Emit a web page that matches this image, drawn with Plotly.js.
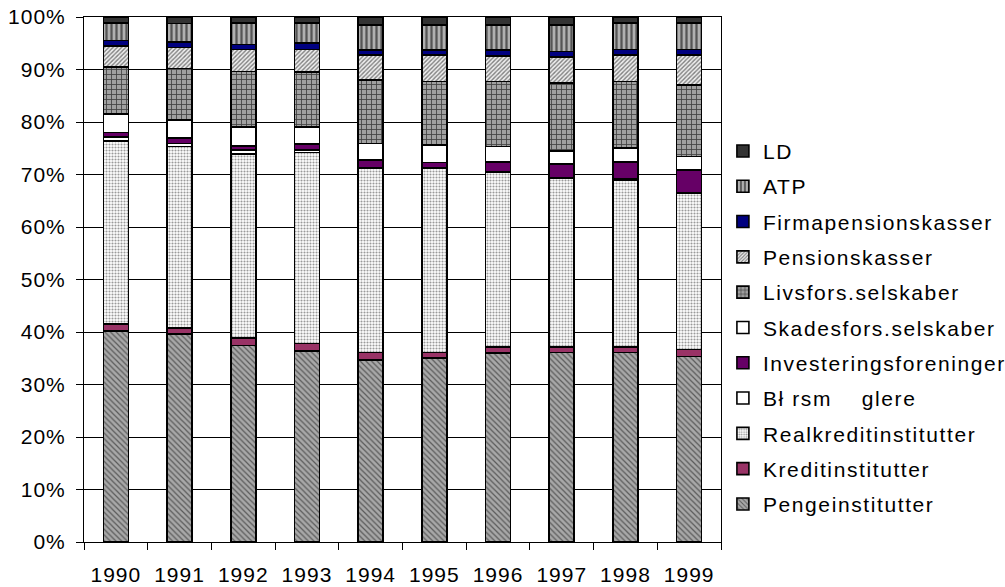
<!DOCTYPE html>
<html>
<head>
<meta charset="utf-8">
<script src="https://cdn.plot.ly/plotly-3.0.1.min.js"></script>
<style>
html,body{margin:0;padding:0;background:#fff;}
#chart{width:1005px;height:587px;}
.xtick text, .ytick text{letter-spacing:1px;}
.legendtext{letter-spacing:1.6px;}
</style>
</head>
<body>
<div id="chart"></div>
<script>
const years = ['1990','1991','1992','1993','1994','1995','1996','1997','1998','1999'];

const pengeinstitutter      = [40.2, 39.6, 37.4, 36.4, 34.7, 35.0, 36.0, 36.1, 36.1, 35.3];
const kreditinstitutter     = [1.3, 1.2, 1.5, 1.4, 1.4, 1.1, 1.1, 1.0, 1.0, 1.4];
const realkreditinstitutter = [34.9, 34.5, 35.0, 36.4, 35.1, 35.1, 33.3, 32.2, 31.9, 29.7];
const borsmaeglere          = [0.8, 0.6, 0.8, 0.5, 0.1, 0.1, 0.1, 0.1, 0.1, 0.1];
const investeringsforeninger= [0.8, 1.1, 0.7, 1.1, 1.5, 1.0, 1.9, 2.6, 3.3, 4.4];
const skadesfors            = [3.5, 3.4, 3.6, 3.2, 3.1, 3.3, 2.9, 2.5, 2.6, 2.5];
const livsfors              = [9.0, 9.8, 10.6, 10.5, 12.1, 12.1, 12.4, 12.9, 12.7, 13.6];
const pensionskasser        = [4.0, 4.0, 4.2, 4.3, 4.8, 5.1, 4.9, 5.0, 5.1, 5.8];
const firmapensionskasser   = [1.0, 1.0, 1.0, 1.2, 0.9, 0.9, 1.1, 1.0, 1.0, 1.0];
const atp                   = [3.4, 3.6, 4.1, 3.9, 4.8, 4.8, 4.8, 5.1, 5.1, 5.1];
const ld                    = [1.1, 1.2, 1.1, 1.1, 1.5, 1.5, 1.5, 1.5, 1.1, 1.1];

const seriesNames = ['Pengeinstitutter','Kreditinstitutter','Realkreditinstitutter',
  'Bł\u00a0rsm\u00a0\u00a0\u00a0\u00a0glere','Investeringsforeninger','Skadesfors.selskaber',
  'Livsfors.selskaber','Pensionskasser','Firmapensionskasser','ATP','LD'];
const seriesValues = [pengeinstitutter, kreditinstitutter, realkreditinstitutter, borsmaeglere,
  investeringsforeninger, skadesfors, livsfors, pensionskasser, firmapensionskasser, atp, ld];

const styles = [
  {color:'#a0a0a0', pattern:{shape:'\\', bgcolor:'#a8a8a8', fgcolor:'#5a5a5a', size:4, solidity:0.3}},
  {color:'#993366'},
  {color:'#ffffff', pattern:{shape:'.', bgcolor:'#ffffff', fgcolor:'#9a9a9a', size:3, solidity:0.4}},
  {color:'#ffffff'},
  {color:'#660066'},
  {color:'#ffffff'},
  {color:'#999999', pattern:{shape:'+', bgcolor:'#a0a0a0', fgcolor:'#404040', size:5, solidity:0.3}},
  {color:'#e0e0e0', pattern:{shape:'/', bgcolor:'#f0f0f0', fgcolor:'#808080', size:3, solidity:0.45}},
  {color:'#000080'},
  {color:'#909090', pattern:{shape:'|', bgcolor:'#b0b0b0', fgcolor:'#555555', size:5, solidity:0.45}},
  {color:'#333333'}
];

const traces = seriesNames.map((name, i) => {
  const m = {color: styles[i].color, line:{color:'#000', width:1.6}};
  if (styles[i].pattern) m.pattern = Object.assign({fillmode:'replace'}, styles[i].pattern);
  return {type:'bar', name:name, legendgroup:'g'+i, legendrank:1000 - i*10,
    x:years, y:seriesValues[i], marker:m, hoverinfo:'name+y'};
});

const layout = {
  width:1005, height:587,
  margin:{l:84, r:284, t:17, b:45, autoexpand:false},
  paper_bgcolor:'#fff', plot_bgcolor:'#fff',
  barmode:'stack', bargap:0.607,
  font:{family:'"Liberation Sans", Arial, sans-serif', size:21, color:'#000'},
  xaxis:{type:'category', tickson:'boundaries', ticks:'outside', ticklen:7, tickcolor:'#000',
    showline:true, linecolor:'#000', linewidth:1, mirror:true, showgrid:false,
    ticklabelstandoff:14, tickfont:{size:21}},
  yaxis:{range:[0,100], dtick:10, ticksuffix:'%', ticks:'outside', ticklen:7, tickcolor:'#000',
    showline:true, linecolor:'#000', linewidth:1, mirror:true, showgrid:true, gridcolor:'#000',
    gridwidth:1, zeroline:false, ticklabelstandoff:6, tickfont:{size:21}},
  legend:{x:1.003, xanchor:'left', y:0.408, yanchor:'middle', traceorder:'grouped',
    tracegroupgap:5, font:{size:21}, bgcolor:'rgba(0,0,0,0)'},
  showlegend:true
};

Plotly.newPlot('chart', traces, layout, {displayModeBar:false, staticPlot:true}).then(gd => {
  gd.querySelectorAll('.legend [clip-path]').forEach(e => e.removeAttribute('clip-path'));
});
</script>
</body>
</html>
